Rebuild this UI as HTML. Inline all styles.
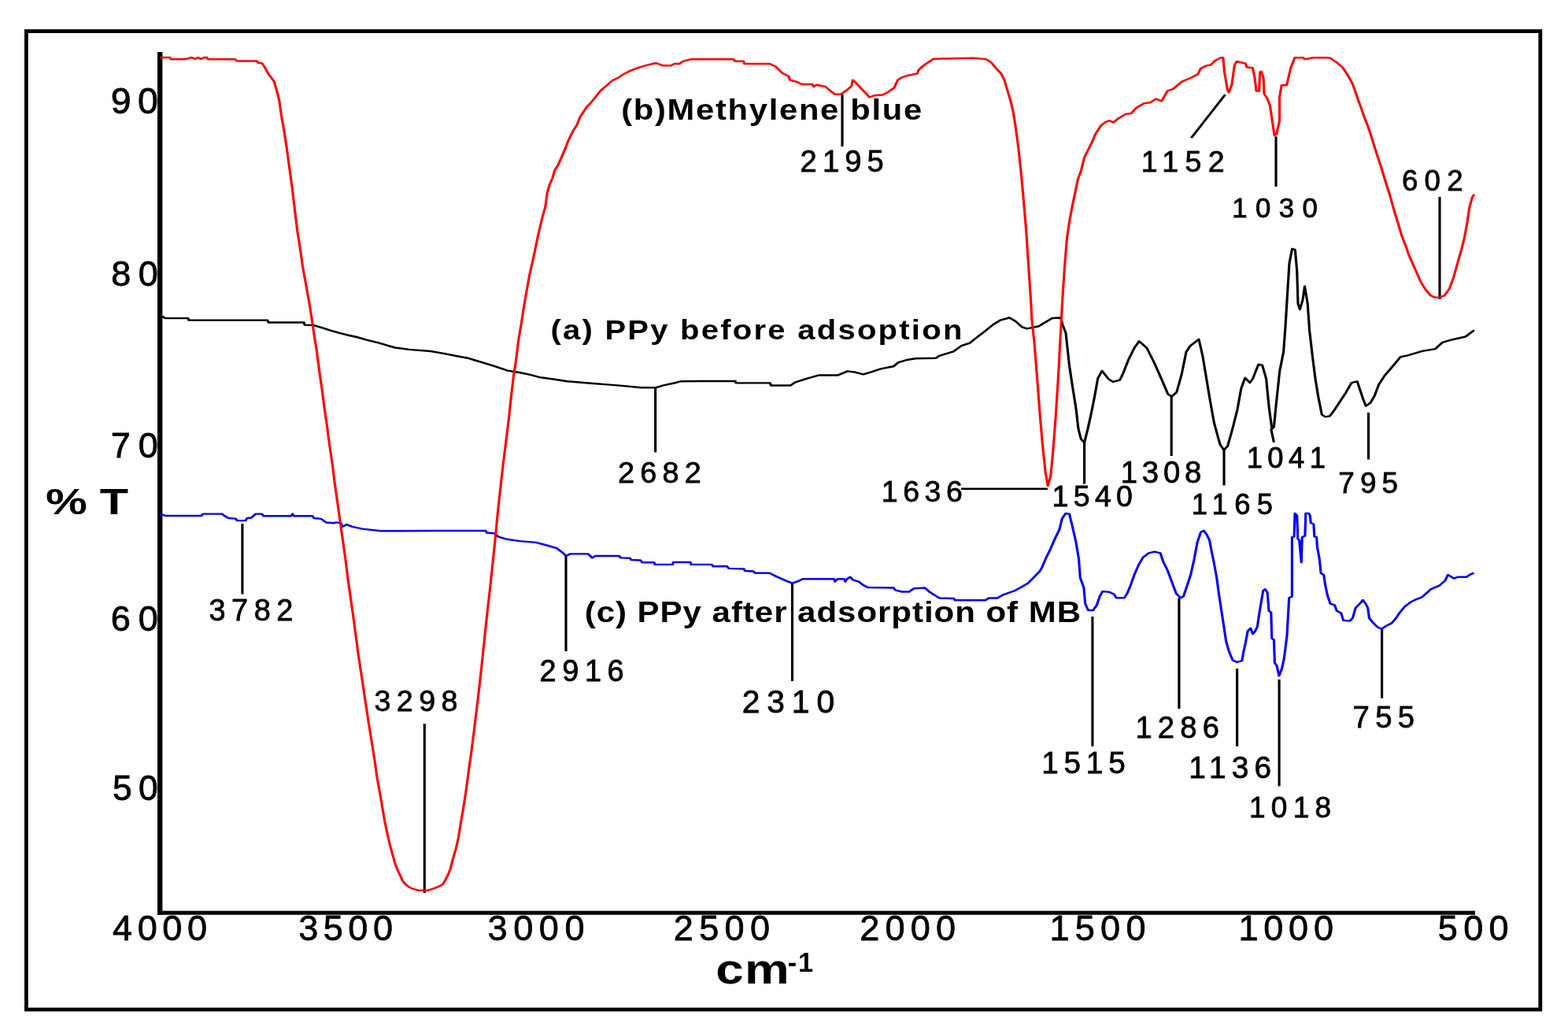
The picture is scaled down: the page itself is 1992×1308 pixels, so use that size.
<!DOCTYPE html>
<html><head><meta charset="utf-8"><title>FTIR spectra</title>
<style>html,body{margin:0;padding:0;background:#fff;width:1992px;height:1308px;overflow:hidden}svg{display:block}</style>
</head><body>
<svg width="1992" height="1308" viewBox="0 0 1992 1308">
<rect width="1992" height="1308" fill="#fff"/>
<rect x="33.4" y="39.6" width="1923.4" height="1242.4" fill="none" stroke="#000" stroke-width="4.8"/>
<rect x="200" y="66" width="6.4" height="1095.7" fill="#000"/>
<rect x="200" y="1156.7" width="1674" height="5" fill="#000"/>
<g transform="scale(3.15,2.45)">
<line x1="97.75" y1="271.43" x2="97.75" y2="307.96" stroke="#000" stroke-width="1.0"/>
<line x1="171.21" y1="375.10" x2="171.21" y2="462.86" stroke="#000" stroke-width="1.0"/>
<line x1="228.25" y1="288.16" x2="228.25" y2="337.55" stroke="#000" stroke-width="1.0"/>
<line x1="264.32" y1="200.82" x2="264.32" y2="234.45" stroke="#000" stroke-width="1.0"/>
<line x1="319.52" y1="302.33" x2="319.52" y2="353.02" stroke="#000" stroke-width="1.0"/>
<line x1="339.68" y1="48.90" x2="339.68" y2="75.92" stroke="#000" stroke-width="1.0"/>
<line x1="387.62" y1="253.35" x2="422.51" y2="253.35" stroke="#000" stroke-width="1.0"/>
<line x1="437.33" y1="229.35" x2="437.33" y2="250.82" stroke="#000" stroke-width="1.0"/>
<line x1="440.60" y1="319.59" x2="440.60" y2="386.82" stroke="#000" stroke-width="1.0"/>
<line x1="472.44" y1="205.51" x2="472.44" y2="236.33" stroke="#000" stroke-width="1.0"/>
<line x1="475.52" y1="309.92" x2="475.52" y2="367.35" stroke="#000" stroke-width="1.0"/>
<line x1="493.65" y1="233.27" x2="493.65" y2="251.59" stroke="#000" stroke-width="1.0"/>
<line x1="480.44" y1="71.51" x2="494.13" y2="49.02" stroke="#000" stroke-width="1.0"/>
<line x1="498.92" y1="346.53" x2="498.92" y2="386.82" stroke="#000" stroke-width="1.0"/>
<line x1="512.60" y1="222.29" x2="513.78" y2="229.27" stroke="#000" stroke-width="1.0"/>
<line x1="514.60" y1="70.73" x2="514.60" y2="96.73" stroke="#000" stroke-width="1.0"/>
<line x1="515.90" y1="352.16" x2="515.90" y2="407.51" stroke="#000" stroke-width="1.0"/>
<line x1="551.90" y1="213.84" x2="551.90" y2="238.16" stroke="#000" stroke-width="1.0"/>
<line x1="557.33" y1="326.00" x2="557.33" y2="361.92" stroke="#000" stroke-width="1.0"/>
<line x1="580.63" y1="102.04" x2="580.63" y2="155.10" stroke="#000" stroke-width="1.0"/>
<polyline points="65.49,163.96 66.67,164.94 75.84,164.94 76.13,165.96 107.94,165.96 108.25,167.14 122.60,167.14 122.86,168.41 126.60,168.61 130.32,170.08 133.49,171.35 136.92,172.61 139.81,173.55 143.81,174.69 147.84,176.16 152.41,177.63 155.87,178.94 159.30,180.20 165.05,181.18 173.65,182.04 178.89,183.22 184.35,184.57 188.63,185.59 192.06,186.94 194.38,187.80 199.56,189.88 204.70,192.08 209.87,193.18 214.48,194.45 217.90,195.63 223.65,196.65 228.79,197.63 237.40,198.57 250.03,199.84 258.63,200.94 264.38,200.94 267.24,199.84 271.84,198.57 274.70,197.63 282.54,197.55 296.57,197.55 296.89,198.53 310.60,198.53 310.92,199.76 318.89,199.76 320.79,198.12 325.87,196.08 330.35,194.45 338.00,194.45 341.81,192.41 345.02,192.98 348.19,194.04 351.40,192.82 355.21,191.18 360.32,189.92 362.22,187.88 365.40,186.65 369.24,185.84 377.52,185.59 378.79,184.45 384.54,182.16 387.71,179.27 391.11,177.80 394.54,174.29 396.63,172.33 400.63,168.16 403.37,166.00 407.11,164.69 409.49,166.45 412.19,169.51 414.25,170.37 418.98,169.06 421.71,166.90 424.44,164.90 427.84,164.69 428.51,168.16 429.84,172.57 431.24,189.18 432.57,200.53 433.97,211.84 434.92,222.37 435.97,227.59 437.33,229.35 438.70,222.37 440.06,214.49 441.43,205.71 442.76,196.16 444.44,192.24 447.17,196.57 448.89,197.92 451.62,197.02 452.95,193.55 455.14,186.37 457.46,180.37 459.40,176.86 462.51,180.37 465.62,188.33 468.73,197.35 471.05,204.33 472.60,205.51 474.54,203.31 476.51,194.33 478.41,182.37 480.00,179.35 483.49,175.88 485.02,184.37 486.57,196.33 488.13,208.33 489.68,219.31 492.03,230.29 493.59,233.27 495.11,231.27 497.08,222.29 499.02,212.33 500.57,201.35 502.13,195.84 504.06,198.33 505.24,196.33 507.56,188.86 509.11,189.35 510.67,196.33 511.81,211.31 512.98,222.29 513.78,221.31 514.54,211.31 516.10,192.33 517.65,182.37 518.41,169.39 519.21,152.41 520.00,136.41 521.14,128.94 522.32,129.43 523.08,140.41 523.49,157.39 524.25,160.41 525.40,155.39 526.19,148.41 527.37,157.39 528.13,171.39 529.30,184.37 530.48,196.33 531.62,205.31 533.11,214.94 534.57,216.08 536.32,215.67 538.06,212.69 540.38,208.20 542.70,203.71 545.05,198.45 547.37,197.71 548.54,202.20 549.71,206.69 550.86,210.45 552.60,208.94 554.35,205.22 556.10,199.22 558.44,194.69 561.94,189.47 564.86,184.98 567.75,184.24 573.59,182.00 578.83,180.86 581.75,177.51 585.81,176.00 591.05,174.49 594.54,171.14" fill="none" stroke="#000" stroke-width="1.0" stroke-linejoin="round" stroke-linecap="butt"/>
<polyline points="64.63,266.37 66.67,267.35 81.27,267.35 81.84,266.37 89.59,266.37 90.48,267.35 92.19,268.57 95.05,268.82 95.62,269.84 99.05,269.84 99.65,268.57 101.37,268.37 103.08,266.37 105.65,266.37 106.22,267.47 117.43,267.47 118.00,266.37 118.57,267.47 126.03,267.47 126.60,268.57 129.46,268.94 131.49,270.78 134.63,271.14 135.49,270.78 137.49,271.14 138.10,273.02 139.81,271.88 142.10,273.02 146.13,274.12 153.59,275.22 174.60,275.14 195.84,275.14 196.41,276.16 199.27,276.41 200.98,278.24 204.44,279.51 209.59,280.45 216.19,281.18 220.51,282.65 224.51,284.12 226.83,286.37 228.25,288.20 229.97,287.10 237.14,287.10 238.86,289.14 240.00,288.20 249.78,288.20 250.35,289.14 254.06,289.31 254.63,290.24 258.38,290.41 258.95,291.51 263.81,291.51 264.13,292.61 271.27,292.61 271.56,291.39 278.44,291.39 278.73,292.61 287.05,292.61 287.62,293.59 293.24,293.51 293.94,294.65 300.10,294.86 300.44,295.92 303.87,296.16 304.57,297.06 310.38,297.06 313.11,298.82 317.24,301.18 319.62,302.33 322.03,301.18 323.75,300.12 336.41,300.12 336.76,301.47 337.78,300.12 340.54,300.12 340.89,301.47 341.56,300.12 342.92,299.06 343.97,300.57 346.35,301.47 348.06,303.22 350.13,304.53 360.41,304.73 361.08,305.88 363.81,306.73 366.57,306.73 368.63,304.98 373.08,304.73 374.79,306.73 377.52,308.94 378.89,310.00 384.73,310.24 385.08,311.14 397.40,311.14 398.76,310.00 402.19,310.00 404.95,308.08 409.05,306.29 411.78,304.37 414.54,302.33 416.60,299.67 419.33,296.16 420.22,294.16 421.97,288.94 423.71,284.45 425.46,279.18 427.21,274.69 428.38,268.69 429.81,266.08 431.27,266.45 432.44,272.45 433.90,280.69 435.08,289.67 435.65,299.43 437.11,304.65 437.68,312.90 438.86,316.29 440.89,316.29 442.35,313.63 443.52,309.14 444.67,306.53 447.59,306.90 449.33,308.04 450.22,309.92 453.43,309.92 454.57,307.67 456.03,303.18 457.49,297.92 459.24,292.69 460.98,288.94 463.30,286.69 465.65,285.96 467.97,286.69 469.14,291.18 470.89,295.67 472.63,301.67 474.38,307.67 476.13,309.92 477.30,309.14 478.48,304.65 480.22,297.92 481.65,289.67 482.83,281.43 484.29,275.84 485.46,275.06 486.60,276.94 487.78,279.96 488.67,285.96 489.52,291.18 490.70,299.43 491.56,307.67 492.44,315.14 493.62,324.90 494.48,332.37 495.65,337.63 497.11,342.12 498.86,343.22 500.89,342.49 501.46,338.37 502.35,333.10 503.21,327.14 504.38,325.63 505.27,328.61 506.22,327.14 507.08,324.90 507.68,319.63 508.54,312.90 509.43,306.16 510.29,305.43 511.17,307.27 511.75,316.65 512.63,317.39 512.92,330.86 513.78,331.63 514.10,343.59 514.95,345.10 515.84,350.33 516.98,346.61 517.87,341.35 519.05,329.39 519.90,309.92 521.08,309.14 521.08,278.45 521.94,278.08 522.22,266.08 523.11,267.22 523.40,279.18 524.00,279.96 524.86,291.55 525.14,278.45 526.32,277.71 526.60,266.08 527.78,266.08 528.35,267.22 528.63,270.98 529.81,271.71 530.10,278.08 530.98,278.45 531.27,283.67 532.13,289.67 532.73,297.18 533.87,297.92 534.48,303.18 535.33,308.41 536.51,312.90 538.25,313.63 539.14,316.65 540.89,317.76 541.75,321.51 544.38,321.88 545.52,320.41 546.70,315.14 548.44,312.90 549.62,311.02 550.79,312.90 551.65,315.14 552.22,320.41 553.68,322.65 555.43,324.90 557.17,326.00 558.92,324.49 561.27,323.02 563.02,320.41 564.19,318.12 566.51,314.41 568.83,312.16 571.17,310.65 573.49,309.51 575.84,306.90 576.98,305.43 580.48,303.55 582.83,300.90 583.97,297.92 586.32,299.80 588.06,299.06 591.56,299.06 592.73,297.92 594.48,297.02" fill="none" stroke="#0000ff" stroke-width="1.0" stroke-linejoin="round" stroke-linecap="butt"/>
<polyline points="64.57,29.76 68.57,29.80 68.89,30.69 74.76,30.69 77.33,29.80 78.73,30.61 79.87,29.80 80.95,30.61 82.41,29.80 83.49,29.80 83.81,30.69 94.79,30.69 95.56,31.63 103.62,31.63 104.25,32.57 105.71,32.86 106.51,34.29 107.46,36.53 108.35,38.53 109.52,40.41 110.54,42.29 111.62,46.94 112.70,52.57 113.43,59.59 114.54,67.55 115.62,76.45 116.73,87.22 117.81,97.06 119.02,110.20 120.06,120.82 121.11,129.39 122.13,138.53 123.37,147.35 124.54,155.51 125.62,164.08 126.63,173.14 127.75,182.04 128.76,192.12 129.84,201.63 130.79,211.10 131.87,220.57 132.89,230.65 134.00,240.12 134.92,249.63 136.03,259.71 137.05,269.18 138.16,279.27 139.30,289.47 140.22,299.27 142.41,318.94 144.44,338.57 146.63,357.31 148.83,376.00 151.02,393.31 152.06,402.98 153.11,410.24 154.16,418.24 155.17,425.71 156.22,432.20 157.27,437.96 158.38,443.22 159.43,447.96 160.51,451.47 161.49,453.96 162.44,456.69 163.62,458.45 164.79,459.67 166.13,460.53 169.05,461.55 172.35,461.55 174.89,460.53 176.83,459.55 178.57,458.45 179.56,456.20 180.70,453.47 181.68,450.20 182.67,445.22 183.81,440.20 184.86,434.45 185.87,426.24 186.92,418.49 187.97,409.76 188.98,400.00 190.10,389.71 191.17,378.94 192.41,365.84 193.49,354.12 194.51,342.00 195.62,328.41 196.63,316.24 197.71,304.08 198.83,290.53 199.62,280.82 200.70,266.33 201.81,253.18 202.89,241.02 203.97,229.80 205.08,218.53 206.16,205.43 207.11,195.10 208.13,186.69 209.14,176.04 210.22,167.92 211.30,158.94 212.41,150.78 213.49,142.90 214.73,135.88 215.78,129.71 216.86,122.98 217.87,117.35 218.86,112.00 219.94,107.27 220.70,99.92 221.71,95.55 222.76,92.49 223.78,88.12 225.11,85.51 226.16,82.45 227.17,79.39 228.19,76.33 229.21,72.86 230.22,70.20 231.24,67.59 232.60,64.98 233.97,60.61 235.33,58.00 236.67,55.35 238.03,53.63 240.06,50.57 242.13,47.06 244.16,44.90 246.86,41.84 249.59,40.08 251.62,38.33 254.35,36.57 257.05,35.27 260.44,33.96 264.54,32.65 267.24,33.96 270.63,33.96 272.00,33.06 274.03,33.06 275.40,31.76 278.79,30.73 295.78,30.73 296.48,31.76 299.87,31.76 300.19,33.06 310.38,33.06 312.76,34.41 315.49,37.88 318.10,39.59 318.57,41.51 321.43,42.45 323.33,43.67 327.62,43.67 328.13,44.90 329.33,43.96 332.92,44.90 334.83,47.02 336.73,48.90 339.05,48.90 341.52,46.73 343.43,44.57 343.90,41.51 345.08,42.73 347.27,45.80 349.65,48.90 350.60,50.41 352.51,49.51 355.87,49.18 358.25,47.63 360.63,45.51 362.06,41.51 363.49,40.29 366.35,39.06 369.97,38.12 370.48,36.29 372.06,34.45 373.49,33.06 376.51,30.53 392.70,30.08 397.59,30.65 399.78,32.37 401.94,35.71 403.68,37.96 405.02,41.35 406.32,46.94 407.62,52.57 408.67,58.16 409.62,66.04 410.67,76.12 411.81,89.59 412.86,104.20 413.90,119.92 414.86,138.98 415.71,155.10 416.13,165.31 417.17,177.96 418.41,197.96 419.52,216.73 420.63,232.65 421.65,244.90 422.63,251.84 423.75,246.53 424.70,233.88 425.84,214.69 426.95,192.24 427.78,171.84 428.57,153.59 429.46,136.73 430.32,123.27 431.37,114.29 432.51,106.45 433.65,99.71 434.70,92.98 436.00,88.49 437.30,81.76 438.22,79.35 439.37,76.37 440.54,73.39 441.71,69.63 442.86,67.39 444.03,65.14 445.78,63.27 447.52,62.53 448.98,63.51 451.02,61.39 453.97,59.14 456.25,58.78 458.03,56.16 461.52,53.51 463.84,53.14 466.16,51.27 468.51,52.41 470.83,47.18 473.17,46.04 476.67,42.29 480.16,40.41 483.08,38.53 484.22,35.55 486.57,34.04 488.32,33.67 490.06,31.43 492.38,29.92 493.27,29.92 493.84,37.43 495.02,46.41 495.59,47.92 496.76,44.16 497.90,33.67 498.79,31.84 502.29,32.94 502.86,34.82 505.21,35.18 506.06,40.41 506.67,47.18 507.81,47.18 508.13,37.43 508.70,37.06 509.56,40.41 509.84,48.65 511.02,50.90 512.19,54.65 513.05,62.12 513.97,70.20 514.79,69.67 516.03,62.78 516.03,50.57 516.86,44.20 518.92,44.20 520.57,35.18 522.22,29.88 525.52,29.88 526.35,30.73 529.65,29.88 535.43,29.88 536.54,30.16 538.95,32.20 541.33,34.78 543.33,38.41 545.33,43.02 546.54,47.14 547.75,51.80 548.95,55.92 550.16,60.53 551.75,65.67 552.95,70.33 554.32,75.96 555.59,81.10 556.95,86.29 558.16,91.43 559.37,96.57 560.57,101.18 561.75,106.86 562.95,112.00 564.16,117.14 565.37,122.33 566.95,127.47 568.16,132.08 569.78,136.73 571.37,141.35 572.95,146.00 574.95,150.12 576.98,153.18 578.73,154.12 580.57,154.24 582.57,153.18 584.57,149.59 586.19,143.92 587.78,136.73 589.37,129.51 590.57,123.35 591.78,115.10 592.57,107.88 593.78,102.24 594.57,100.69" fill="none" stroke="#ff0000" stroke-width="1.0" stroke-linejoin="round" stroke-linecap="butt"/>
</g>
<g font-family="'Liberation Sans', Arial, sans-serif" fill="#000" style="white-space:pre">
<text transform="translate(140.68,143.54)" font-size="46.48" font-weight="normal" letter-spacing="8.59" stroke="#000" stroke-width="0.80">90</text>
<text transform="translate(141.20,362.55)" font-size="45.07" font-weight="normal" letter-spacing="9.38" stroke="#000" stroke-width="0.80">80</text>
<text transform="translate(140.75,580.55)" font-size="45.07" font-weight="normal" letter-spacing="9.83" stroke="#000" stroke-width="0.80">70</text>
<text transform="translate(140.75,800.55)" font-size="45.07" font-weight="normal" letter-spacing="9.83" stroke="#000" stroke-width="0.80">60</text>
<text transform="translate(142.93,1016.06)" font-size="44.37" font-weight="normal" letter-spacing="8.40" stroke="#000" stroke-width="0.80">50</text>
<text transform="translate(143.10,1193.55)" font-size="45.07" font-weight="normal" letter-spacing="6.55" stroke="#000" stroke-width="0.80">4000</text>
<text transform="translate(379.20,1193.55)" font-size="45.07" font-weight="normal" letter-spacing="6.52" stroke="#000" stroke-width="0.80">3500</text>
<text transform="translate(619.50,1193.55)" font-size="45.07" font-weight="normal" letter-spacing="7.62" stroke="#000" stroke-width="0.80">3000</text>
<text transform="translate(855.75,1193.55)" font-size="45.07" font-weight="normal" letter-spacing="7.33" stroke="#000" stroke-width="0.80">2500</text>
<text transform="translate(1092.25,1193.55)" font-size="45.07" font-weight="normal" letter-spacing="7.17" stroke="#000" stroke-width="0.80">2000</text>
<text transform="translate(1333.39,1193.55)" font-size="45.07" font-weight="normal" letter-spacing="7.28" stroke="#000" stroke-width="0.80">1500</text>
<text transform="translate(1573.39,1193.55)" font-size="45.07" font-weight="normal" letter-spacing="6.78" stroke="#000" stroke-width="0.80">1000</text>
<text transform="translate(1826.80,1193.55)" font-size="45.07" font-weight="normal" letter-spacing="7.27" stroke="#000" stroke-width="0.80">500</text>
<text transform="translate(265.48,788.32)" font-size="37.89" font-weight="normal" letter-spacing="7.53" stroke="#000" stroke-width="0.80">3782</text>
<text transform="translate(475.50,902.62)" font-size="37.61" font-weight="normal" letter-spacing="7.41" stroke="#000" stroke-width="0.80">3298</text>
<text transform="translate(685.51,865.12)" font-size="37.89" font-weight="normal" letter-spacing="7.63" stroke="#000" stroke-width="0.80">2916</text>
<text transform="translate(785.11,613.12)" font-size="37.75" font-weight="normal" letter-spacing="7.26" stroke="#000" stroke-width="0.80">2682</text>
<text transform="translate(942.66,904.59)" font-size="40.85" font-weight="normal" letter-spacing="8.90" stroke="#000" stroke-width="0.80">2310</text>
<text transform="translate(1016.59,218.02)" font-size="38.17" font-weight="normal" letter-spacing="7.07" stroke="#000" stroke-width="0.80">2195</text>
<text transform="translate(1119.80,637.33)" font-size="37.46" font-weight="normal" letter-spacing="6.57" stroke="#000" stroke-width="0.80">1636</text>
<text transform="translate(1336.40,642.63)" font-size="37.46" font-weight="normal" letter-spacing="6.41" stroke="#000" stroke-width="0.80">1540</text>
<text transform="translate(1323.20,982.41)" font-size="38.71" font-weight="normal" letter-spacing="6.80" stroke="#000" stroke-width="0.80">1515</text>
<text transform="translate(1423.64,613.42)" font-size="38.31" font-weight="normal" letter-spacing="5.82" stroke="#000" stroke-width="0.80">1308</text>
<text transform="translate(1442.45,937.22)" font-size="38.17" font-weight="normal" letter-spacing="7.18" stroke="#000" stroke-width="0.80">1286</text>
<text transform="translate(1513.69,653.34)" font-size="36.34" font-weight="normal" letter-spacing="8.41" stroke="#000" stroke-width="0.80">1165</text>
<text transform="translate(1449.80,217.93)" font-size="37.46" font-weight="normal" letter-spacing="8.44" stroke="#000" stroke-width="0.80">1152</text>
<text transform="translate(1510.19,987.91)" font-size="38.87" font-weight="normal" letter-spacing="7.16" stroke="#000" stroke-width="0.80">1136</text>
<text transform="translate(1583.69,594.44)" font-size="36.34" font-weight="normal" letter-spacing="6.48" stroke="#000" stroke-width="0.80">1041</text>
<text transform="translate(1565.22,275.65)" font-size="34.79" font-weight="normal" letter-spacing="10.41" stroke="#000" stroke-width="0.80">1030</text>
<text transform="translate(1586.94,1038.13)" font-size="37.04" font-weight="normal" letter-spacing="7.27" stroke="#000" stroke-width="0.80">1018</text>
<text transform="translate(1700.35,626.23)" font-size="36.90" font-weight="normal" letter-spacing="7.10" stroke="#000" stroke-width="0.80">795</text>
<text transform="translate(1718.49,923.92)" font-size="38.29" font-weight="normal" letter-spacing="7.40" stroke="#000" stroke-width="0.80">755</text>
<text transform="translate(1780.97,241.83)" font-size="36.62" font-weight="normal" letter-spacing="8.25" stroke="#000" stroke-width="0.80">602</text>
<text transform="translate(789.21,151.58) scale(1.1200,1)" font-size="37.23" font-weight="bold" letter-spacing="1.54">(b)Methylene blue</text>
<text transform="translate(699.40,431.39) scale(1.1200,1)" font-size="35.74" font-weight="bold" letter-spacing="2.00">(a) PPy before adsoption</text>
<text transform="translate(742.70,790.41) scale(1.1200,1)" font-size="37.55" font-weight="bold" letter-spacing="0.85">(c) PPy after adsorption of MB</text>
<text transform="translate(58.02,653.24) scale(1.3000,1)" font-size="45.71" font-weight="bold" letter-spacing="-0.23">% T</text>
<text transform="translate(909.15,1249.46) scale(1.1800,1)" font-size="54.00" font-weight="bold" letter-spacing="1.11">cm</text>
<text transform="translate(1000.63,1233.60)" font-size="34.35" font-weight="bold" letter-spacing="2.03">-1</text>
</g>
</svg>
</body></html>
